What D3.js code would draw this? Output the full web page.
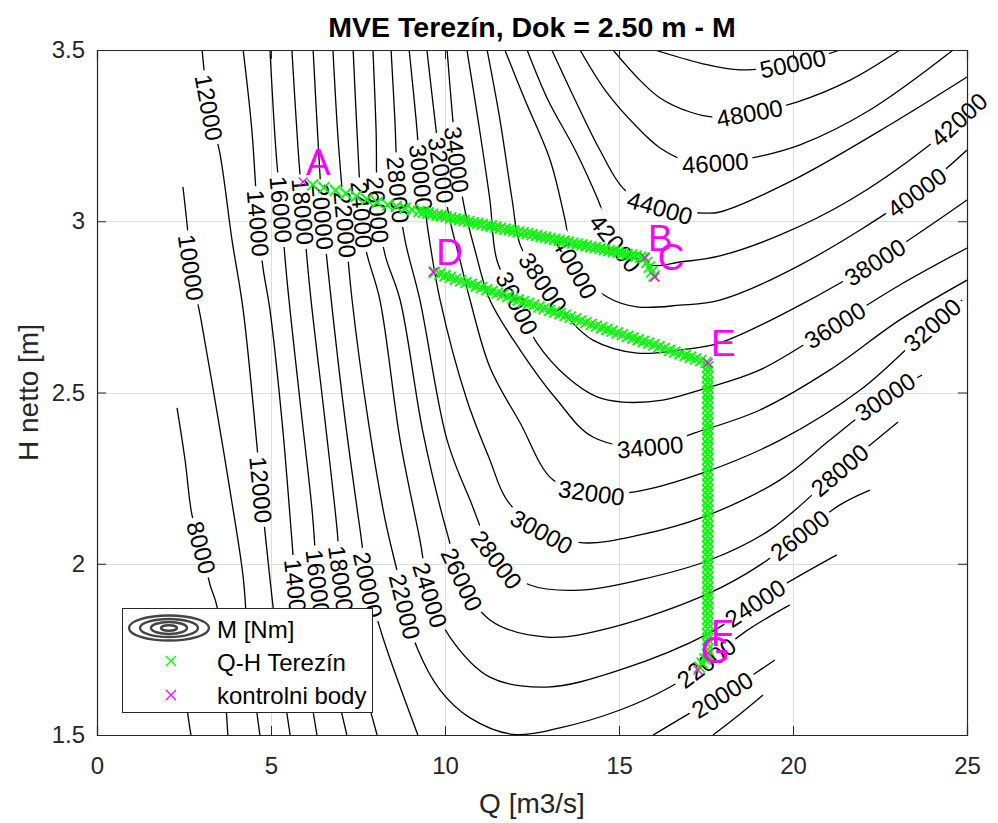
<!DOCTYPE html>
<html>
<head>
<meta charset="utf-8">
<script src="https://cdn.jsdelivr.net/npm/d3@7"></script>
<style>
  body { margin: 0; background: #fff; }
  svg { display: block; font-family: "Liberation Sans", Arial, Helvetica, sans-serif; }
</style>
</head>
<body>
<svg id="chart" width="998" height="823"></svg>
<script>
// ---- axis ticks ----
const qTicks = [0, 5, 10, 15, 20, 25];
const hTicks = [1.5, 2, 2.5, 3, 3.5];
const hTickLabels = ["1.5", "2", "2.5", "3", "3.5"];

// ---- torque isolines M [Nm], traced as (Q, H) points ----
const isolines = [
  {level: 6000,  pts: [[2.27,1.86],[2.45,1.70],[2.61,1.56],[2.70,1.50]]},
  {level: 8000,  pts: [[2.30,2.455],[2.53,2.303],[2.73,2.142],[3.00,2.046],[3.25,1.938],[3.45,1.874],[3.65,1.661],[3.76,1.50]]},
  {level: 10000, pts: [[2.47,3.100],[2.59,2.989],[2.70,2.866],[2.99,2.712],[3.39,2.478],[3.82,2.215],[4.20,1.961],[4.34,1.777],[4.68,1.50]]},
  {level: 12000, pts: [[3.02,3.5],[3.22,3.331],[3.53,3.199],[3.88,2.945],[4.20,2.741],[4.60,2.341],[4.71,2.215],[4.83,2.090],[5.06,1.874],[5.32,1.661],[5.55,1.5]]},
  {level: 14000, pts: [[4.20,3.5],[4.45,3.266],[4.63,2.995],[4.77,2.864],[4.97,2.741],[5.34,2.391],[5.60,2.069],[5.72,1.918],[5.98,1.719],[6.32,1.5]]},
  {level: 16000, pts: [[4.97,3.5],[5.14,3.208],[5.29,3.033],[5.46,2.828],[5.83,2.478],[6.18,2.157],[6.35,1.944],[6.70,1.719],[7.18,1.5]]},
  {level: 18000, pts: [[5.60,3.5],[5.78,3.208],[5.92,3.027],[6.12,2.799],[6.55,2.420],[6.90,2.099],[7.01,1.958],[7.41,1.748],[8.05,1.5]]},
  {level: 18000, pts: [[17.70,1.50],[18.40,1.555],[19.14,1.617]]},
  {level: 20000, pts: [[6.21,3.5],[6.35,3.237],[6.49,3.012],[6.70,2.799],[7.13,2.420],[7.56,2.099],[7.79,1.938],[8.22,1.783],[9.22,1.5]]},
  {level: 20000, pts: [[15.98,1.5],[17.04,1.564],[17.96,1.617],[18.97,1.684],[19.48,1.719]]},
  {level: 22000, pts: [[6.78,3.5],[6.93,3.237],[7.13,2.989],[7.33,2.770],[7.79,2.420],[8.28,2.128],[8.65,1.967],[8.85,1.874],[9.20,1.754],[9.86,1.631],[10.72,1.550],[11.95,1.502],[13.30,1.521],[15.03,1.573],[16.47,1.640],[17.50,1.710],[18.62,1.801],[19.91,1.880]]},
  {level: 24000, pts: [[7.36,3.5],[7.47,3.266],[7.61,3.018],[7.73,2.916],[8.13,2.770],[8.71,2.361],[9.28,2.069],[9.57,1.909],[10.14,1.786],[11.29,1.669],[12.93,1.640],[15.03,1.690],[17.61,1.798],[18.91,1.885],[19.83,1.944],[21.26,2.026]]},
  {level: 26000, pts: [[7.93,3.5],[8.02,3.266],[8.07,3.033],[8.28,2.901],[8.71,2.770],[9.37,2.382],[10.06,2.090],[10.49,1.953],[11.29,1.836],[12.93,1.786],[14.83,1.815],[17.61,1.915],[19.05,1.996],[20.20,2.084],[21.35,2.172],[22.21,2.215]]},
  {level: 28000, pts: [[8.45,3.5],[8.56,3.296],[8.65,3.091],[8.85,2.945],[9.28,2.770],[10.06,2.361],[10.72,2.186],[11.49,2.011],[12.44,1.938],[13.88,1.923],[15.60,1.953],[17.61,2.011],[19.34,2.099],[21.35,2.274],[23.02,2.414]]},
  {level: 30000, pts: [[8.97,3.5],[9.17,3.296],[9.31,3.129],[9.51,2.974],[9.86,2.770],[10.63,2.478],[11.29,2.303],[11.78,2.186],[12.79,2.093],[13.97,2.061],[15.60,2.084],[17.41,2.136],[19.63,2.245],[21.06,2.361],[22.64,2.487],[23.71,2.551]]},
  {level: 32000, pts: [[9.48,3.5],[9.71,3.296],[9.89,3.150],[10.14,3.004],[10.43,2.887],[10.72,2.770],[11.29,2.574],[12.16,2.411],[13.10,2.245],[14.22,2.207],[15.46,2.210],[17.41,2.265],[19.63,2.361],[21.93,2.507],[24.0,2.697],[24.86,2.77]]},
  {level: 34000, pts: [[10.06,3.5],[10.20,3.325],[10.34,3.179],[10.57,3.033],[10.86,2.916],[11.29,2.770],[12.16,2.624],[13.22,2.478],[14.25,2.370],[15.89,2.341],[17.18,2.382],[19.05,2.449],[21.06,2.566],[23.07,2.712],[25.0,2.828]]},
  {level: 36000, pts: [[10.63,3.5],[10.95,3.296],[11.29,3.062],[11.49,2.887],[12.07,2.761],[12.64,2.645],[13.51,2.545],[14.37,2.487],[15.11,2.472],[16.26,2.478],[17.41,2.510],[19.05,2.566],[21.21,2.697],[23.07,2.814],[25.0,2.922]]},
  {level: 38000, pts: [[11.21,3.5],[11.58,3.296],[11.93,3.062],[12.16,2.931],[12.82,2.820],[13.59,2.712],[14.25,2.653],[15.52,2.615],[16.75,2.624],[17.90,2.645],[20.20,2.755],[22.36,2.881],[25.0,3.062]]},
  {level: 40000, pts: [[11.72,3.5],[12.30,3.354],[13.02,3.179],[13.45,3.004],[13.74,2.864],[14.66,2.779],[15.52,2.750],[16.75,2.755],[17.90,2.770],[20.20,2.872],[23.56,3.085],[25.0,3.208]]},
  {level: 42000, pts: [[12.36,3.5],[12.96,3.354],[13.74,3.208],[14.40,3.062],[14.89,2.936],[15.89,2.872],[16.75,2.881],[17.90,2.899],[19.63,2.960],[21.64,3.062],[23.85,3.217],[25.0,3.319]]},
  {level: 44000, pts: [[13.07,3.5],[13.74,3.354],[14.45,3.208],[15.17,3.091],[16.18,3.039],[17.41,3.024],[17.90,3.027],[20.0,3.120],[22.87,3.287],[25.0,3.421]]},
  {level: 46000, pts: [[13.88,3.5],[14.60,3.383],[15.46,3.281],[16.18,3.214],[17.04,3.173],[17.76,3.170],[18.97,3.188],[20.20,3.223],[22.21,3.325],[24.60,3.5]]},
  {level: 48000, pts: [[14.83,3.5],[15.60,3.412],[16.18,3.360],[17.04,3.319],[17.76,3.304],[18.76,3.316],[20.11,3.348],[21.64,3.412],[23.07,3.5]]},
  {level: 50000, pts: [[16.03,3.5],[17.33,3.462],[18.48,3.442],[20.20,3.465],[21.35,3.5]]}
];

// ---- isoline label anchors: [level, Q, H] ----
const isolineLabels = [
  [8000, 3.00, 2.046],
  [10000, 2.70, 2.866],
  [12000, 3.22, 3.331], [12000, 4.71, 2.215],
  [14000, 4.63, 2.995], [14000, 5.72, 1.918],
  [16000, 5.29, 3.033], [16000, 6.35, 1.944],
  [18000, 5.92, 3.027], [18000, 7.01, 1.958],
  [20000, 6.49, 3.012], [20000, 7.79, 1.938], [20000, 17.96, 1.617],
  [22000, 7.13, 2.989], [22000, 8.85, 1.874], [22000, 17.50, 1.710],
  [24000, 7.61, 3.018], [24000, 9.57, 1.909], [24000, 18.91, 1.885],
  [26000, 8.07, 3.033], [26000, 10.49, 1.953], [26000, 20.20, 2.084],
  [28000, 8.65, 3.091], [28000, 11.49, 2.011], [28000, 21.35, 2.274],
  [30000, 9.31, 3.129], [30000, 12.79, 2.093], [30000, 22.64, 2.487],
  [32000, 9.89, 3.150], [32000, 14.22, 2.207], [32000, 24.0, 2.697],
  [34000, 10.34, 3.179], [34000, 15.89, 2.341],
  [36000, 12.07, 2.761], [36000, 21.21, 2.697],
  [38000, 12.82, 2.820], [38000, 22.36, 2.881],
  [40000, 13.74, 2.864], [40000, 23.56, 3.085],
  [42000, 14.89, 2.936], [42000, 24.75, 3.30],
  [44000, 16.18, 3.039],
  [46000, 17.76, 3.170],
  [48000, 18.76, 3.316],
  [50000, 20.0, 3.462]
];

// ---- Q-H Terezín operating points [Q, H] ----
const qhPoints = [
  [6.20,3.106],[6.52,3.098],[6.85,3.090],[7.15,3.081],[7.45,3.073],[7.75,3.064],[8.05,3.055],[8.35,3.048],[8.60,3.043],[8.85,3.038],[9.05,3.034],
  [9.25,3.029],[9.38,3.027],[9.51,3.024],[9.64,3.021],[9.77,3.018],[9.90,3.016],[10.03,3.013],[10.16,3.010],[10.29,3.007],[10.42,3.005],
  [10.55,3.002],[10.68,2.999],[10.81,2.996],[10.94,2.994],[11.07,2.991],[11.20,2.988],[11.33,2.986],[11.46,2.983],[11.59,2.980],[11.72,2.977],
  [11.85,2.975],[11.98,2.972],[12.11,2.969],[12.24,2.966],[12.37,2.964],[12.50,2.961],[12.63,2.958],[12.76,2.955],[12.89,2.953],[13.02,2.950],
  [13.15,2.947],[13.28,2.944],[13.41,2.942],[13.54,2.939],[13.67,2.936],[13.80,2.933],[13.93,2.931],[14.06,2.928],[14.19,2.925],[14.32,2.923],
  [14.45,2.920],[14.58,2.917],[14.71,2.914],[14.84,2.912],[14.97,2.909],[15.10,2.906],[15.23,2.903],[15.36,2.901],[15.49,2.898],[15.62,2.895],
  [15.72,2.893],[15.80,2.880],[15.87,2.866],[15.94,2.852],[16.01,2.840],
  [9.70,2.851],[9.85,2.846],[10.00,2.841],[10.15,2.836],[10.30,2.831],[10.45,2.826],[10.60,2.821],[10.75,2.816],[10.90,2.811],[11.05,2.806],
  [11.20,2.800],[11.35,2.795],[11.50,2.790],[11.65,2.785],[11.80,2.780],[11.95,2.775],[12.10,2.770],[12.25,2.765],[12.40,2.760],[12.55,2.755],
  [12.70,2.750],[12.85,2.745],[13.00,2.740],[13.15,2.735],[13.30,2.730],[13.45,2.725],[13.60,2.720],[13.75,2.715],[13.90,2.709],[14.05,2.704],
  [14.20,2.699],[14.35,2.694],[14.50,2.689],[14.65,2.684],[14.80,2.679],[14.95,2.674],[15.10,2.669],[15.25,2.664],[15.40,2.659],[15.55,2.654],
  [15.70,2.649],[15.85,2.644],[16.00,2.639],[16.15,2.634],[16.30,2.629],[16.45,2.623],[16.60,2.618],[16.75,2.613],[16.90,2.608],[17.05,2.603],
  [17.20,2.598],[17.35,2.593],[17.50,2.588],
  [17.55,2.575],[17.55,2.560],[17.55,2.545],[17.55,2.530],[17.55,2.515],[17.55,2.500],[17.55,2.485],[17.55,2.470],[17.55,2.455],[17.55,2.440],
  [17.55,2.425],[17.55,2.410],[17.55,2.395],[17.55,2.380],[17.55,2.365],[17.55,2.350],[17.55,2.335],[17.55,2.320],[17.55,2.305],[17.55,2.290],
  [17.55,2.275],[17.55,2.260],[17.55,2.245],[17.55,2.230],[17.55,2.215],[17.55,2.200],[17.55,2.185],[17.55,2.170],[17.55,2.155],[17.55,2.140],
  [17.55,2.125],[17.55,2.110],[17.55,2.095],[17.55,2.080],[17.55,2.065],[17.55,2.050],[17.55,2.035],[17.55,2.020],[17.55,2.005],[17.55,1.990],
  [17.55,1.975],[17.55,1.960],[17.55,1.945],[17.55,1.930],[17.55,1.915],[17.55,1.900],[17.55,1.885],[17.55,1.870],[17.55,1.855],[17.55,1.840],
  [17.55,1.825],[17.55,1.810],[17.55,1.795],[17.55,1.780],[17.55,1.765],[17.55,1.750],[17.55,1.735],
  [17.47,1.722],[17.39,1.710],[17.31,1.698]
];

// ---- control points ----
const ctrlNames = ["A", "B", "C", "D", "E", "F", "G"];
const ctrlQ = [5.92, 15.75, 16.03, 9.66, 17.56, 17.56, 17.27];
const ctrlH = [3.115, 2.893, 2.837, 2.852, 2.586, 1.739, 1.690];

const legendNames = ["M [Nm]", "Q-H Terezín", "kontrolni body"];
const titleText = "MVE Terezín, Dok = 2.50 m - M";
const xLabel = "Q [m3/s]";
const yLabel = "H netto [m]";

// ---- layout ----
const W = 998, Hh = 823;
const plot = {l: 97, r: 967, t: 50, b: 735};
const x = d3.scaleLinear().domain([0, 25]).range([plot.l, plot.r]);
const y = d3.scaleLinear().domain([1.5, 3.5]).range([plot.b, plot.t]);
const axisColor = "#262626";
const green = "#00ff00", magenta = "#ff00ff";

const svg = d3.select("#chart");
svg.append("rect").attr("width", W).attr("height", Hh).attr("fill", "#fff");
const defs = svg.append("defs");
defs.append("clipPath").attr("id", "plotClip")
  .append("rect").attr("x", plot.l).attr("y", plot.t)
  .attr("width", plot.r - plot.l).attr("height", plot.b - plot.t);

// grid
const gGrid = svg.append("g").attr("stroke", "#dedede").attr("stroke-width", 1);
qTicks.filter(v => v > 0 && v < 25).forEach(v => {
  gGrid.append("line").attr("x1", Math.round(x(v)) + 0.5).attr("x2", Math.round(x(v)) + 0.5)
    .attr("y1", plot.t).attr("y2", plot.b);
});
hTicks.filter(v => v > 1.5 && v < 3.5).forEach(v => {
  gGrid.append("line").attr("y1", Math.round(y(v)) + 0.5).attr("y2", Math.round(y(v)) + 0.5)
    .attr("x1", plot.l).attr("x2", plot.r);
});

// isolines
const gIso = svg.append("g").attr("clip-path", "url(#plotClip)");
const lineGen = d3.line().x(d => x(d[0])).y(d => y(d[1])).curve(d3.curveCatmullRom.alpha(0.5));
const isoPaths = isolines.map((c, i) => {
  const sel = gIso.append("path").attr("d", lineGen(c.pts))
    .attr("fill", "none").attr("stroke", "#000").attr("stroke-width", 1.3);
  return {level: c.level, node: sel.node(), sel, idx: i};
});

// isoline labels, with a gap cut in their own line
const gLab = svg.append("g").attr("font-size", 24).attr("fill", "#000");
const gaps = isoPaths.map(() => []);
isolineLabels.forEach(([lev, q, h]) => {
  const px = x(q), py = y(h);
  let best = null;
  isoPaths.filter(p => p.level === lev).forEach(p => {
    const L = p.node.getTotalLength();
    for (let s = 0; s <= L; s += 1) {
      const pt = p.node.getPointAtLength(s);
      const d = (pt.x - px) ** 2 + (pt.y - py) ** 2;
      if (!best || d < best.d) best = {d, s, p, pt, L};
    }
  });
  if (!best) return;
  const {p, s, L, pt} = best;
  const a = p.node.getPointAtLength(Math.max(0, s - 8));
  const b = p.node.getPointAtLength(Math.min(L, s + 8));
  let ang = Math.atan2(b.y - a.y, b.x - a.x) * 180 / Math.PI;
  if (ang > 90) ang -= 180;
  if (ang <= -90) ang += 180;
  const t = gLab.append("text")
    .attr("transform", `translate(${pt.x},${pt.y}) rotate(${ang})`)
    .attr("text-anchor", "middle").attr("dy", "0.36em").text(lev);
  const tw = t.node().getComputedTextLength();
  gaps[p.idx].push({cx: pt.x, cy: pt.y, ang, w: tw + 8, h: 22});
});
isoPaths.forEach((p, i) => {
  if (!gaps[i].length) return;
  const m = defs.append("mask").attr("id", "gap" + i).attr("maskUnits", "userSpaceOnUse")
    .attr("x", 0).attr("y", 0).attr("width", W).attr("height", Hh);
  m.append("rect").attr("width", W).attr("height", Hh).attr("fill", "#fff");
  gaps[i].forEach(r => {
    m.append("rect").attr("x", -r.w / 2).attr("y", -r.h / 2).attr("width", r.w).attr("height", r.h)
      .attr("transform", `translate(${r.cx},${r.cy}) rotate(${r.ang})`).attr("fill", "#000");
  });
  p.sel.attr("mask", `url(#gap${i})`);
});

// x-shaped marker
const xMark = s => `M${-s},${-s}L${s},${s}M${-s},${s}L${s},${-s}`;

// Q-H Terezín points
svg.append("g").attr("clip-path", "url(#plotClip)")
  .selectAll("path").data(qhPoints).join("path")
  .attr("d", xMark(5.5)).attr("transform", d => `translate(${x(d[0])},${y(d[1])})`)
  .attr("fill", "none").attr("stroke", green).attr("stroke-width", 1.9);

// control points with letters
const ctrl = ctrlNames.map((n, i) => ({n, q: ctrlQ[i], h: ctrlH[i]}));
const gCtrl = svg.append("g");
gCtrl.selectAll("path").data(ctrl).join("path")
  .attr("d", xMark(4.5)).attr("transform", d => `translate(${x(d.q)},${y(d.h)})`)
  .attr("fill", "none").attr("stroke", magenta).attr("stroke-width", 1.3);
gCtrl.selectAll("text").data(ctrl).join("text")
  .attr("x", d => x(d.q) + 3).attr("y", d => y(d.h) - 7)
  .attr("font-size", 37).attr("fill", magenta).text(d => d.n);

// axes frame and inward ticks
const gAx = svg.append("g");
gAx.append("g").attr("transform", `translate(0,${plot.b})`)
  .call(d3.axisBottom(x).tickValues(qTicks).tickSize(-9).tickPadding(22).tickFormat(d3.format("d")));
gAx.append("g").attr("transform", `translate(0,${plot.t})`)
  .call(d3.axisTop(x).tickValues(qTicks).tickSize(-9).tickFormat(""));
gAx.append("g").attr("transform", `translate(${plot.l},0)`)
  .call(d3.axisLeft(y).tickValues(hTicks).tickSize(-9).tickPadding(12).tickFormat((d, i) => hTickLabels[i]));
gAx.append("g").attr("transform", `translate(${plot.r},0)`)
  .call(d3.axisRight(y).tickValues(hTicks).tickSize(-9).tickFormat(""));
gAx.selectAll(".domain").attr("stroke", axisColor).attr("stroke-width", 1.2);
gAx.selectAll(".tick line").attr("stroke", axisColor);
gAx.selectAll(".tick text").attr("fill", axisColor).attr("font-size", 24)
  .attr("font-family", "'Liberation Sans', Arial, sans-serif");

// title and axis labels
svg.append("text").attr("x", (plot.l + plot.r) / 2).attr("y", 37).attr("text-anchor", "middle")
  .attr("font-size", 28.5).attr("font-weight", "bold").attr("fill", "#000").text(titleText);
svg.append("text").attr("x", (plot.l + plot.r) / 2).attr("y", 813).attr("text-anchor", "middle")
  .attr("font-size", 28).attr("fill", axisColor).text(xLabel);
svg.append("text").attr("transform", `translate(38,${(plot.t + plot.b) / 2}) rotate(-90)`)
  .attr("text-anchor", "middle").attr("font-size", 28).attr("fill", axisColor).text(yLabel);

// legend
const lg = svg.append("g");
lg.append("rect").attr("x", 122.5).attr("y", 608.5).attr("width", 250).attr("height", 104)
  .attr("fill", "#fff").attr("stroke", axisColor).attr("stroke-width", 1);
[[40, 12.5], [29, 9], [18, 6], [8, 2.8]].forEach(([rx, ry]) => {
  lg.append("ellipse").attr("cx", 169).attr("cy", 628).attr("rx", rx).attr("ry", ry)
    .attr("fill", "none").attr("stroke", "#444").attr("stroke-width", 2.4);
});
lg.append("path").attr("d", xMark(5)).attr("transform", "translate(171,661)")
  .attr("fill", "none").attr("stroke", green).attr("stroke-width", 1.3);
lg.append("path").attr("d", xMark(5)).attr("transform", "translate(171,695)")
  .attr("fill", "none").attr("stroke", magenta).attr("stroke-width", 1.3);
lg.selectAll("text.lt").data(legendNames).join("text").attr("class", "lt")
  .attr("x", 217).attr("y", (d, i) => 638 + i * 33)
  .attr("font-size", 24).attr("fill", "#000").text(d => d);
</script>
</body>
</html>
